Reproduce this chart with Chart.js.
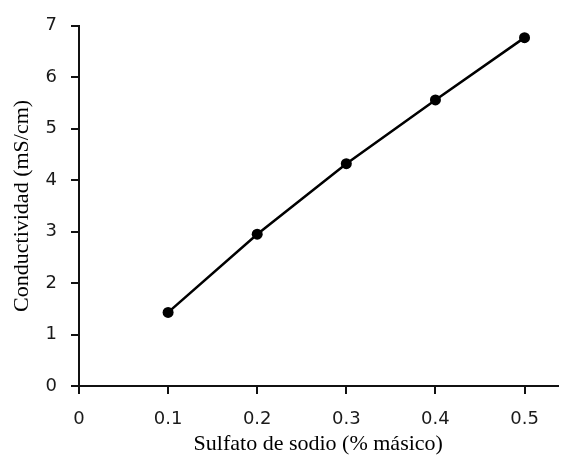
<!DOCTYPE html>
<html>
<head>
<meta charset="utf-8">
<script src="https://cdn.jsdelivr.net/npm/chart.js@4"></script>
<style>
  html, body { margin: 0; padding: 0; background: #fff; }
  #wrap { width: 563px; height: 457px; }
</style>
</head>
<body>
<div id="wrap"><canvas id="chart"></canvas></div>
<script>
// data
const sulfato = [0.1, 0.2, 0.3, 0.4, 0.5];
const conductividad = [1.43, 2.95, 4.32, 5.56, 6.77];
const xTicks = [0, 0.1, 0.2, 0.3, 0.4, 0.5];
const yTicks = [0, 1, 2, 3, 4, 5, 6, 7];

const tickFont = { family: 'DejaVu Sans', size: 18 };
const titleFont = { family: 'Liberation Serif', size: 22 };

// outward tick marks on both axes
const tickMarks = {
    id: 'tickMarks',
    afterDraw(chart) {
        const ctx = chart.ctx;
        const xs = chart.scales.x, ys = chart.scales.y;
        ctx.save();
        ctx.strokeStyle = '#111';
        ctx.lineWidth = 2;
        ctx.beginPath();
        xTicks.forEach(v => {
            const px = Math.round(xs.getPixelForValue(v));
            ctx.moveTo(px, ys.bottom);
            ctx.lineTo(px, ys.bottom + 8);
        });
        yTicks.forEach(v => {
            const py = Math.round(ys.getPixelForValue(v));
            ctx.moveTo(xs.left, py);
            ctx.lineTo(xs.left - 8, py);
        });
        ctx.stroke();
        ctx.restore();
    },
};

new Chart(document.getElementById('chart'), {
    type: 'scatter',
    data: {
        datasets: [{
            data: sulfato.map((x, i) => ({ x: x, y: conductividad[i] })),
            showLine: true,
            borderColor: '#000',
            borderWidth: 2.5,
            backgroundColor: '#000',
            pointRadius: 5.5,
            pointBorderWidth: 0,
        }],
    },
    options: {
        responsive: true,
        maintainAspectRatio: false,
        animation: false,
        layout: { padding: { top: 21, right: 1, left: 0, bottom: 0 } },
        plugins: { legend: { display: false }, tooltip: { enabled: false } },
        scales: {
            x: {
                type: 'linear',
                min: 0,
                max: 0.537,
                afterBuildTicks: (axis) => { axis.ticks = xTicks.map(v => ({ value: v })); },
                afterFit: (axis) => { axis.height = 71; },
                ticks: {
                    font: tickFont,
                    color: '#1a1a1a',
                    padding: 16,
                    maxRotation: 0,
                    callback: (v) => String(v),
                },
                grid: { drawOnChartArea: false, drawTicks: true, tickLength: 7, tickColor: '#111', lineWidth: 2 },
                border: { color: '#111', width: 2 },
                title: { display: true, text: 'Sulfato de sodio (% másico)', font: titleFont, color: '#000', padding: { top: 0, bottom: 0 } },
            },
            y: {
                min: 0,
                max: 7,
                afterBuildTicks: (axis) => { axis.ticks = yTicks.map(v => ({ value: v })); },
                afterFit: (axis) => { axis.width = 79; },
                ticks: {
                    font: tickFont,
                    color: '#1a1a1a',
                    padding: 15,
                },
                grid: { drawOnChartArea: false, drawTicks: true, tickLength: 7, tickColor: '#111', lineWidth: 2 },
                border: { color: '#111', width: 2 },
                title: { display: true, text: 'Conductividad (mS/cm)', font: titleFont, color: '#000', padding: { top: 9, bottom: 0 } },
            },
        },
    },
    plugins: [tickMarks],
});
</script>
</body>
</html>
